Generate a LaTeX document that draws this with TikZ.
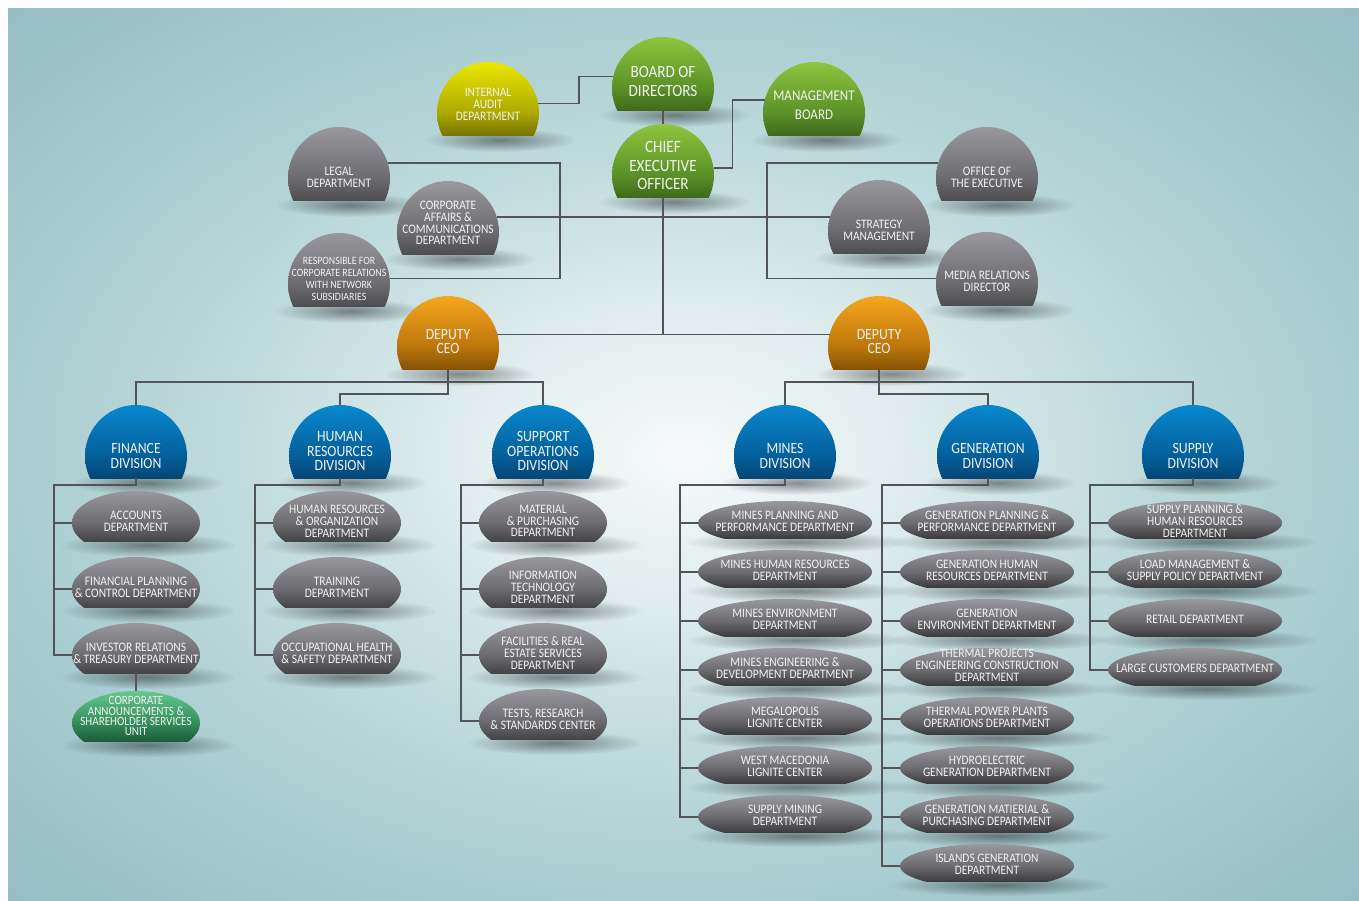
\documentclass[tikz,border=0pt]{standalone}
\usepackage{fontspec}
\newfontfamily\orgfont{Carlito}[FakeStretch=0.88]
\usetikzlibrary{shapes.geometric,backgrounds,fadings}
\definecolor{bgA}{RGB}{247,250,250}
\definecolor{bgB}{RGB}{224,237,238}
\definecolor{bgC}{RGB}{194,220,222}
\definecolor{bgD}{RGB}{168,205,208}
\definecolor{bgE}{RGB}{148,190,194}
\definecolor{greyT}{RGB}{152,152,157}
\definecolor{greyM}{RGB}{108,108,112}
\definecolor{greyB}{RGB}{38,38,40}
\definecolor{greenT}{RGB}{142,198,62}
\definecolor{greenM}{RGB}{90,145,40}
\definecolor{greenB}{RGB}{26,56,10}
\definecolor{yellowT}{RGB}{236,231,0}
\definecolor{yellowM}{RGB}{172,168,0}
\definecolor{yellowB}{RGB}{52,50,0}
\definecolor{orangeT}{RGB}{247,167,30}
\definecolor{orangeM}{RGB}{188,117,10}
\definecolor{orangeB}{RGB}{62,36,0}
\definecolor{blueT}{RGB}{8,136,206}
\definecolor{blueM}{RGB}{4,95,155}
\definecolor{blueB}{RGB}{3,36,66}
\definecolor{tealT}{RGB}{102,200,142}
\definecolor{tealM}{RGB}{50,140,90}
\definecolor{tealB}{RGB}{12,56,32}
\definecolor{wire}{RGB}{82,84,88}
\definecolor{lettering}{RGB}{242,242,242}
\pgfdeclareradialshading{canvas}{\pgfpoint{0bp}{0bp}}{color(0bp)=(bgA); color(8bp)=(bgB); color(16bp)=(bgC); color(25bp)=(bgD); color(36bp)=(bgE); color(50bp)=(bgE)}
\tikzfading[name=smear, inner color=transparent!0, outer color=transparent!100]
\tikzset{
  fill top/.store in=\filltop, fill mid/.store in=\fillmid, fill bot/.store in=\fillbot,
  cut lift/.store in=\cutlift,
  unit/.style={ellipse, inner xsep=-14pt, inner ysep=-4pt, outer sep=0pt, align=center, text=lettering,
    font=\orgfont\fontsize{6.5}{5.9}\selectfont,
    path picture={\shade[top color=\filltop, bottom color=\fillbot, middle color=\fillmid]
      (path picture bounding box.north west) rectangle ([yshift=\cutlift]path picture bounding box.south east);}},
  dome/.style={unit, minimum width=51pt, minimum height=51pt, cut lift=14.5pt},
  dept/.style={unit, minimum width=64pt, minimum height=32pt, cut lift=7pt, text depth=2pt},
  widedept/.style={unit, minimum width=87pt, minimum height=22pt, cut lift=3.5pt, text depth=2pt},
  lift/.style={text depth=#1},
  headline/.style={font=\orgfont\fontsize{8.6}{9.2}\selectfont},
  subhead/.style={font=\orgfont\fontsize{7.8}{7.2}\selectfont},
  greytone/.style={fill top=greyT, fill mid=greyM, fill bot=greyB},
  greentone/.style={fill top=greenT, fill mid=greenM, fill bot=greenB},
  yellowtone/.style={fill top=yellowT, fill mid=yellowM, fill bot=yellowB},
  orangetone/.style={fill top=orangeT, fill mid=orangeM, fill bot=orangeB},
  bluetone/.style={fill top=blueT, fill mid=blueM, fill bot=blueB},
  tealtone/.style={fill top=tealT, fill mid=tealM, fill bot=tealB},
  smudge/.style={fill=black, opacity=.42, path fading=smear}
}
\begin{document}
\begin{tikzpicture}[x=0.5pt, y=-0.5pt]
  \useasboundingbox (0,0) rectangle (1359,900);
  \path
    (663,88) node[dome,greentone,headline,lift=6.5pt] (board) {BOARD OF\\DIRECTORS}
    (488,113) node[dome,yellowtone,lift=8.5pt] (audit) {INTERNAL\\AUDIT\\DEPARTMENT}
    (814,113) node[dome,greentone,font=\orgfont\fontsize{7.4}{9.2}\selectfont,lift=8pt] (mgmt) {MANAGEMENT\\BOARD}
    (663,175) node[dome,greentone,headline,lift=9.5pt] (ceo) {CHIEF\\EXECUTIVE\\OFFICER}
    (339,178) node[dome,greytone,lift=1pt] (legal) {LEGAL\\DEPARTMENT}
    (448,232) node[dome,greytone,lift=9pt] (corp) {CORPORATE\\AFFAIRS \&\\COMMUNICATIONS\\DEPARTMENT}
    (339,284) node[dome,greytone,font=\orgfont\fontsize{5.6}{5.9}\selectfont,lift=5pt] (resp) {RESPONSIBLE FOR\\CORPORATE RELATIONS\\WITH NETWORK\\SUBSIDIARIES}
    (987,178) node[dome,greytone,lift=1pt] (office) {OFFICE OF\\THE EXECUTIVE}
    (879,231) node[dome,greytone,lift=1pt] (strat) {STRATEGY\\MANAGEMENT}
    (987,283) node[dome,greytone,lift=1.5pt] (media) {MEDIA RELATIONS\\DIRECTOR}
    (448,347) node[dome,orangetone,subhead,lift=5.5pt] (deputyL) {DEPUTY\\CEO}
    (879,347) node[dome,orangetone,subhead,lift=5.5pt] (deputyR) {DEPUTY\\CEO};
  \path
    (136,456) node[dome,bluetone,subhead] (finance) {FINANCE\\DIVISION}
    (340,456) node[dome,bluetone,subhead,lift=5pt] (hr) {HUMAN\\RESOURCES\\DIVISION}
    (543,456) node[dome,bluetone,subhead,lift=5pt] (support) {SUPPORT\\OPERATIONS\\DIVISION}
    (785,456) node[dome,bluetone,subhead] (mines) {MINES\\DIVISION}
    (988,456) node[dome,bluetone,subhead] (generation) {GENERATION\\DIVISION}
    (1193,456) node[dome,bluetone,subhead] (supply) {SUPPLY\\DIVISION};
  \path
    (136,523) node[dept,greytone] (accounts) {ACCOUNTS\\DEPARTMENT}
    (136,589) node[dept,greytone] (planning) {FINANCIAL PLANNING\\\& CONTROL DEPARTMENT}
    (136,655) node[dept,greytone] (invest) {INVESTOR RELATIONS\\\& TREASURY DEPARTMENT}
    (136,723) node[dept,tealtone,font=\orgfont\fontsize{6.3}{5.1}\selectfont,lift=7pt] (announce) {CORPORATE\\ANNOUNCEMENTS \&\\SHAREHOLDER SERVICES\\UNIT}
    (337,523) node[dept,greytone] (hrorg) {HUMAN RESOURCES\\\& ORGANIZATION\\DEPARTMENT}
    (337,589) node[dept,greytone] (training) {TRAINING\\DEPARTMENT}
    (337,655) node[dept,greytone] (safety) {OCCUPATIONAL HEALTH\\\& SAFETY DEPARTMENT}
    (543,523) node[dept,greytone] (material) {MATERIAL\\\& PURCHASING\\DEPARTMENT}
    (543,589) node[dept,greytone] (infotech) {INFORMATION\\TECHNOLOGY\\DEPARTMENT}
    (543,655) node[dept,greytone] (facility) {FACILITIES \& REAL\\ESTATE SERVICES\\DEPARTMENT}
    (543,721) node[dept,greytone] (tests) {TESTS, RESEARCH\\\& STANDARDS CENTER};
  \path
    (785,523) node[widedept,greytone] (mplan) {MINES PLANNING AND\\PERFORMANCE DEPARTMENT}
    (785,572) node[widedept,greytone] (mhr) {MINES HUMAN RESOURCES\\DEPARTMENT}
    (785,621) node[widedept,greytone] (menv) {MINES ENVIRONMENT\\DEPARTMENT}
    (785,670) node[widedept,greytone] (meng) {MINES ENGINEERING \&\\DEVELOPMENT DEPARTMENT}
    (785,719) node[widedept,greytone] (megal) {MEGALOPOLIS\\LIGNITE CENTER}
    (785,768) node[widedept,greytone] (wmac) {WEST MACEDONIA\\LIGNITE CENTER}
    (785,817) node[widedept,greytone] (msupply) {SUPPLY MINING\\DEPARTMENT}
    (987,523) node[widedept,greytone] (gplan) {GENERATION PLANNING \&\\PERFORMANCE DEPARTMENT}
    (987,572) node[widedept,greytone] (ghr) {GENERATION HUMAN\\RESOURCES DEPARTMENT}
    (987,621) node[widedept,greytone] (genv) {GENERATION\\ENVIRONMENT DEPARTMENT}
    (987,670) node[widedept,greytone,lift=5pt] (tproj) {THERMAL PROJECTS\\ENGINEERING CONSTRUCTION\\DEPARTMENT}
    (987,719) node[widedept,greytone] (tops) {THERMAL POWER PLANTS\\OPERATIONS DEPARTMENT}
    (987,768) node[widedept,greytone] (hydro) {HYDROELECTRIC\\GENERATION DEPARTMENT}
    (987,817) node[widedept,greytone] (gpurch) {GENERATION MATIERIAL \&\\PURCHASING DEPARTMENT}
    (987,866) node[widedept,greytone] (islands) {ISLANDS GENERATION\\DEPARTMENT}
    (1195,523) node[widedept,greytone] (splan) {SUPPLY PLANNING \&\\HUMAN RESOURCES\\DEPARTMENT}
    (1195,572) node[widedept,greytone] (load) {LOAD MANAGEMENT \&\\SUPPLY POLICY DEPARTMENT}
    (1195,621) node[widedept,greytone] (retail) {RETAIL DEPARTMENT}
    (1195,670) node[widedept,greytone] (large) {LARGE CUSTOMERS DEPARTMENT};
  \begin{scope}[draw=wire, line width=.75pt]
    \draw (audit.11) -- ++(41,0) |- (board.167);
    \draw ([yshift=14.5pt]board.south) -- (ceo.north);
    \draw (ceo.8) -- ++(19,0) |- (mgmt.165);
    \draw ([yshift=14.5pt]ceo.south) -- (ceo.south |- deputyL.14);
    \draw (deputyL.14) -- (deputyR.166);
    \draw (legal.17) -- ++(172,0) |- (resp.6);
    \draw (corp.17) -- (strat.164 |- corp.17);
    \draw (office.163) -- ++(-171,0) |- (media.175);
    \draw ([yshift=14.5pt]deputyL.south) -- ++(0,25) -| (hr.north);
    \draw (finance.north) -- ++(0,-23) -| (support.north);
    \draw ([yshift=14.5pt]deputyR.south) -- ++(0,25) -| (generation.north);
    \draw (mines.north) -- ++(0,-23) -| (supply.north);
    \draw ([yshift=14.5pt]finance.south) -- ++(0,7) -| ([xshift=-9pt]invest.west) -- (invest.west);
    \draw ([yshift=7pt]invest.south) -- (announce.north);
    \draw ([yshift=14.5pt]hr.south) -- ++(0,7) -| ([xshift=-9pt]safety.west) -- (safety.west);
    \draw ([yshift=14.5pt]support.south) -- ++(0,7) -| ([xshift=-9pt]tests.west) -- (tests.west);
    \draw ([yshift=14.5pt]mines.south) -- ++(0,7) -| ([xshift=-9pt]msupply.west) -- (msupply.west);
    \draw ([yshift=14.5pt]generation.south) -- ++(0,7) -| ([xshift=-9pt]islands.west) -- (islands.west);
    \draw ([yshift=14.5pt]supply.south) -- ++(0,7) -| ([xshift=-9pt]large.west) -- (large.west);
    \foreach \n in {accounts,planning,hrorg,training,material,infotech,facility,
                    mplan,mhr,menv,meng,megal,wmac,gplan,ghr,genv,tproj,tops,hydro,gpurch,splan,load,retail}
      \draw (\n.west) -- ++(-18,0);
  \end{scope}
  \begin{scope}[on background layer]
    \shade[shading=canvas] (8,8) rectangle (1359,900);
    \foreach \n in {audit,board,mgmt,ceo,legal,corp,resp,office,strat,media,deputyL,deputyR,
                    finance,hr,support,mines,generation,supply}
      \fill[smudge] ([xshift=6pt,yshift=12pt]\n.south) ellipse [x radius=38pt, y radius=6pt];
    \foreach \n in {accounts,planning,invest,announce,hrorg,training,safety,material,infotech,facility,tests}
      \fill[smudge] ([xshift=6pt,yshift=5pt]\n.south) ellipse [x radius=44pt, y radius=6pt];
    \foreach \n in {mplan,mhr,menv,meng,megal,wmac,msupply,gplan,ghr,genv,tproj,tops,hydro,gpurch,islands,
                    splan,load,retail,large}
      \fill[smudge] ([xshift=6pt,yshift=1.5pt]\n.south) ellipse [x radius=56pt, y radius=5.5pt];
  \end{scope}
\end{tikzpicture}
\end{document}
